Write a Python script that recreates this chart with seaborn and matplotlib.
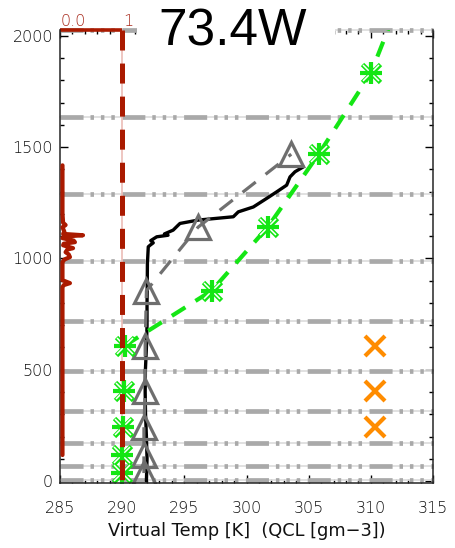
import matplotlib
matplotlib.use("Agg")
import matplotlib.pyplot as plt
import seaborn as sns
from matplotlib.patches import Rectangle
from matplotlib.ticker import MultipleLocator
import matplotlib.transforms as mtransforms

# ---------------- data ----------------
level_heights = [4, 69, 171, 314, 495, 718, 989, 1291, 1637, 2028]
layer_heights = [36, 118, 242, 406, 608, 855, 1140, 1468, 1832]
tri_temp = [291.75, 291.75, 291.75, 291.85, 291.85, 291.95, 296.1, 303.6]
green_temp = [290.0, 290.0, 290.1, 290.15, 290.2, 297.2, 301.7, 305.8, 310.0]
green_above_height = [2200]
green_above_temp = [312.6]
orange_heights = [242, 406, 608]
orange_temp = [310.3, 310.3, 310.3]

prof_heights = [0, 100, 200, 300, 400, 500, 600, 700, 800, 900, 977, 1052, 1059,
                1070, 1080, 1097, 1104, 1110, 1127, 1149, 1157, 1172, 1187, 1209,
                1231, 1274, 1299, 1329, 1366, 1389, 1411]
prof_temp = [291.95, 292.0, 291.95, 291.88, 291.85, 291.87, 291.95, 292.0, 292.0,
             292.02, 292.03, 292.1, 292.24, 292.5, 292.3, 292.78, 293.69, 293.4,
             294.1, 294.5, 294.65, 296.1, 298.94, 299.34, 300.55, 301.75, 302.43,
             303.23, 303.5, 303.9, 304.57]

qcl_heights = [1418, 1200, 1160, 1150, 1140, 1120, 1110, 1104, 1098, 1091, 1080,
               1073, 1066, 1059, 1046, 1040, 1028, 1018, 1006, 995, 983, 960, 902,
               889, 880, 871, 117]
qcl_values = [0.04, 0.04, 0.05, 0.09, 0.04, 0.07, 0.05, 0.37, 0.06, 0.04, 0.22,
              0.24, 0.06, 0.05, 0.21, 0.12, 0.09, 0.14, 0.16, 0.07, 0.04, 0.04,
              0.04, 0.16, 0.06, 0.04, 0.04]

ref_temp = 290
qcl_tick_values = [0.0, 1]
qcl_tick_labels = ["0.0", "1"]
QCL_ORIGIN, QCL_SCALE = 285, 5   # secondary (top) axis: temp = 285 + 5*qcl

title = "73.4W"
xlabel = "Virtual Temp [K]  (QCL [gm\u22123])"

GREEN = "#14e614"
ORANGE = "#ff8c00"
DKRED = "#aa1a00"

# ---------------- style ----------------
sns.set_style("ticks")
plt.rcParams.update({
    "font.family": ["DejaVu Sans"],
    "font.weight": 200,
    "lines.scale_dashes": False,
    "axes.linewidth": 1.1,
    "xtick.color": "black",
    "ytick.color": "black",
})

fig = plt.figure(figsize=(4.55, 5.48), dpi=100)
W, H = 455, 548
ax = fig.add_axes([60 / W, 1 - 483.3 / H, (433 - 60) / W, (483.3 - 29.5) / H])
ax.set_xlim(285, 315)
ax.set_ylim(-10, 2028)

# model level lines
for h in level_heights:
    ax.axhline(h, color="#dedede", lw=1.3, zorder=1, clip_on=False)
    ax.axhline(h, color="#a9a9a9", lw=3.4,
               ls=(0, (16.6, 5, 2.5, 5, 2.5, 5, 2.5, 5.4)), zorder=1.1, clip_on=False)

# QCL profile (top axis units mapped to temperature axis)
qcl_x = [QCL_ORIGIN + QCL_SCALE * q for q in qcl_values]
sns.lineplot(x=qcl_x, y=qcl_heights, sort=False, estimator=None,
             color=DKRED, lw=3.0, zorder=10, ax=ax)

# reference vertical line
ax.axvline(ref_temp, ymin=1, ymax=0, color="#ebbcb6", lw=1.2, zorder=2)
ax.axvline(ref_temp, ymin=1, ymax=0, color=DKRED, lw=3.6,
           ls=(0, (14.4, 9.4)), zorder=8)

# black virtual temperature profile
sns.lineplot(x=prof_temp, y=prof_heights, sort=False, estimator=None,
             color="black", lw=2.4, zorder=4, ax=ax)

# gray dashed + triangles
tri_h = layer_heights[:len(tri_temp)]
sns.lineplot(x=tri_temp, y=tri_h, sort=False, estimator=None, color="#707070",
             lw=2.3, ls=(0, (12, 9)), zorder=5, ax=ax)
sns.lineplot(x=tri_temp, y=tri_h, sort=False, estimator=None, color="#707070",
             ls="none", marker="^", ms=17, mfc="none", mec="#6e6e6e", mew=2.3,
             zorder=5.2, ax=ax)

# green dashed line + asterisks
gl_x = green_temp[4:] + green_above_temp
gl_y = layer_heights[4:] + green_above_height
sns.lineplot(x=gl_x, y=gl_y, sort=False, estimator=None, color=GREEN,
             lw=3.0, ls=(0, (11.5, 8.6)), zorder=6, ax=ax)
sns.lineplot(x=green_temp, y=layer_heights, sort=False, estimator=None,
             ls="none", marker="x", ms=13, mew=3.4, mec=GREEN, color=GREEN,
             zorder=6.2, ax=ax)
sns.lineplot(x=green_temp, y=layer_heights, sort=False, estimator=None,
             ls="none", marker="x", ms=12, mew=1.1, mec="white", color="white",
             zorder=6.3, ax=ax)
sns.lineplot(x=green_temp, y=layer_heights, sort=False, estimator=None,
             ls="none", marker="+", ms=16, mew=3.0, mec=GREEN, color=GREEN,
             zorder=6.4, ax=ax)

# orange crosses
sns.lineplot(x=orange_temp, y=orange_heights, sort=False, estimator=None,
             ls="none", marker="x", ms=14, mew=3.0, mec=ORANGE, color=ORANGE,
             zorder=6.5, ax=ax)

# ---------------- axes decoration ----------------
ax.xaxis.set_major_locator(MultipleLocator(5))
ax.xaxis.set_minor_locator(MultipleLocator(1))
ax.yaxis.set_major_locator(MultipleLocator(500))
ax.yaxis.set_minor_locator(MultipleLocator(100))
ax.tick_params(which="both", direction="in", top=True, right=True,
               labeltop=False, labelright=False, width=1.0)
ax.tick_params(which="major", length=6)
ax.tick_params(which="minor", length=3)
ax.tick_params(axis="x", which="major", pad=12.5, labelsize=11.5, labelcolor="#111111")
ax.tick_params(axis="y", which="major", pad=5.0, labelsize=11.5, labelcolor="#111111")
ax.spines["top"].set_visible(False)
for s in ["left", "right", "bottom"]:
    ax.spines[s].set_zorder(9)

ax.set_xlabel(xlabel, fontsize=12.8, color="#111111")
ax.xaxis.label.set_va("baseline")
ax.xaxis.set_label_coords(0.5, (483.3 - 536) / (483.3 - 29.5))
ax.set_ylabel("")

# top QCL axis (red segment + labels)
qx = [QCL_ORIGIN + QCL_SCALE * q for q in qcl_tick_values]
ax.hlines(2028, qx[0], qx[-1], color=DKRED, lw=2.6, zorder=9, clip_on=False)
trans = mtransforms.blended_transform_factory(ax.transData, ax.transAxes)
for x, lab in zip(qx, qcl_tick_labels):
    ax.text(x + 0.08, 1.0077, lab, transform=trans, ha="left", va="baseline",
            fontsize=11.5, color="#a82a1c", clip_on=False)

# title with white box
fig.patches.append(Rectangle((137 / W, 1 - 41 / H), 198 / W, 41 / H,
                             transform=fig.transFigure, facecolor="white",
                             edgecolor="none", zorder=5))
fig.text(233 / W, 1 - 45 / H, title, ha="center", va="baseline", fontsize=37,
         family=["Liberation Sans", "DejaVu Sans"], fontweight="normal",
         color="black", zorder=6)

fig.savefig("out.png", dpi=100)
